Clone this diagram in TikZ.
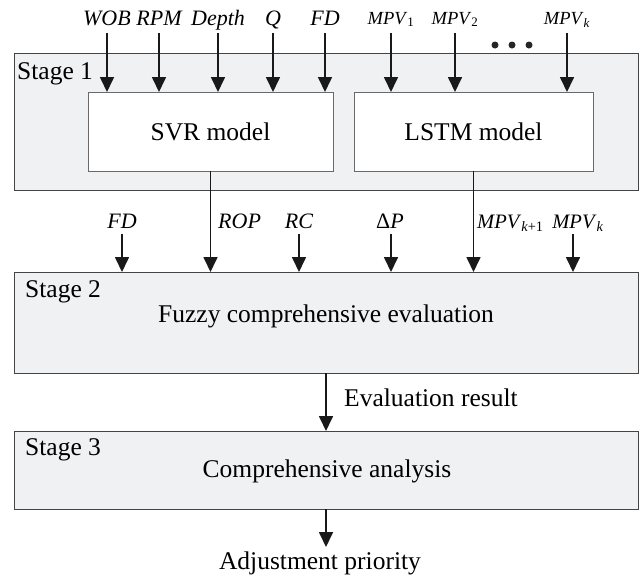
\documentclass[tikz,border=0pt]{standalone}
\usepackage{fontspec}
\setmainfont{Liberation Serif}
\usetikzlibrary{arrows.meta}
\definecolor{stagefill}{HTML}{F0F1F3}
\definecolor{stageline}{HTML}{454545}
\definecolor{modelline}{HTML}{6A6A6A}
\newcommand{\mpv}[1]{\textit{MPV}\textsubscript{#1}}
\begin{document}
\begin{tikzpicture}[x=1pt,y=-1pt,
  stagebox/.style={draw=stageline, fill=stagefill, line width=1pt, rectangle, inner sep=0pt, outer sep=0pt, anchor=north west},
  modelbox/.style={draw=modelline, fill=white, line width=1pt, rectangle, inner sep=0pt, outer sep=0pt, anchor=north west},
  maintext/.style={font=\fontsize{25.5}{30}\selectfont, inner sep=0pt},
  stagelabel/.style={maintext, anchor=base west},
  toplab/.style={inner sep=0pt, anchor=base, text depth=8pt, font=\fontsize{22}{26}\selectfont\itshape},
  topmpv/.style={inner sep=0pt, anchor=base, text depth=9pt, font=\fontsize{18.5}{22}\selectfont},
  midlab/.style={inner sep=0pt, anchor=base, text depth=6pt, font=\fontsize{22}{26}\selectfont\itshape},
  midmpv/.style={inner sep=0pt, anchor=base, text depth=6pt, font=\fontsize{20.5}{25}\selectfont},
  arr/.style={-{Triangle[length=15pt,width=14pt]}, line width=1.7pt, draw=black!90},
  dotc/.style={circle, fill=black!85, inner sep=0pt, minimum size=7pt}
]
\useasboundingbox (0,0) rectangle (641,579);

% stage boxes
\node[stagebox, minimum width=624pt, minimum height=137pt] (s1) at (14,53) {};
\node[stagebox, minimum width=624pt, minimum height=101pt] (s2) at (14,272) {};
\node[stagebox, minimum width=624pt, minimum height=78pt] (s3) at (14,431) {};

% model boxes
\node[modelbox, minimum width=245pt, minimum height=79pt] (svr) at (88,92) {};
\node[modelbox, minimum width=239pt, minimum height=79pt] (lstm) at (354,92) {};
\node[maintext, anchor=base] (svrt) at ([yshift=-9pt]svr.center) {SVR model};
\node[maintext, anchor=base] (lstmt) at ([yshift=-9pt]lstm.center) {LSTM model};

% stage labels
\node[stagelabel] (st1) at (17,79) {Stage 1};
\node[stagelabel] (st2) at (25,297) {Stage 2};
\node[stagelabel] (st3) at (25,455) {Stage 3};
\node[maintext, anchor=base] (fuzzy) at (326,322) {Fuzzy comprehensive evaluation};
\node[maintext, anchor=base] (comp) at (327,477) {Comprehensive analysis};

% top inputs
\node[toplab] (lwob) at (107,25) {WOB};
\node[toplab] (lrpm) at (159,25) {RPM};
\node[toplab] (ldepth) at (218,25) {Depth};
\node[toplab] (lq) at (273,25) {Q};
\node[toplab] (lfd) at (325,25) {FD};
\node[topmpv] (lm1) at (391,24) {\mpv{1}};
\node[topmpv] (lm2) at (455,24) {\mpv{2}};
\node[topmpv] (lmk) at (567,24) {\mpv{\textit{k}}};
\foreach \n in {lwob,lrpm,ldepth,lq,lfd}{
  \draw[arr] (\n.south) -- (\n.south |- svr.north);
}
\foreach \n in {lm1,lm2,lmk}{
  \draw[arr] (\n.south) -- (\n.south |- lstm.north);
}
\node[dotc] (d1) at (495,45) {};
\node[dotc] (d2) at (512,45) {};
\node[dotc] (d3) at (529,45) {};

% stage 2 inputs
\draw[arr] (svr.south) -- (svr.south |- s2.north);
\draw[arr] (lstm.south) -- (lstm.south |- s2.north);
\node[midlab, anchor=base west] (rop) at (218,228) {ROP};
\node[midmpv, anchor=base west] (mk1) at (477,228) {\mpv{\textit{k}+1}};
\node[midlab] (mfd) at (122,228) {FD};
\node[midlab] (mrc) at (299,228) {RC};
\node[midlab] (mdp) at (390,228) {{\upshape Δ}P};
\node[midmpv] (mmk) at (578,228) {\mpv{\textit{k}}};
\draw[arr] (mfd.south) -- (mfd.south |- s2.north);
\draw[arr] (mrc.south) -- (mrc.south |- s2.north);
\draw[arr] ([xshift=1pt]mdp.south) -- ([xshift=1pt]mdp.south |- s2.north);
\draw[arr] ([xshift=-5pt]mmk.south) -- ([xshift=-5pt]mmk.south |- s2.north);

% stage 2 -> stage 3 -> output
\draw[arr] (s2.south) -- (s3.north);
\node[maintext, anchor=base west] (evr) at (344,406) {Evaluation result};
\coordinate (adjtip) at (326,547);
\draw[arr] (s3.south) -- (adjtip);
\node[maintext, anchor=base] (adj) at (320,569) {Adjustment priority};
\end{tikzpicture}
\end{document}
